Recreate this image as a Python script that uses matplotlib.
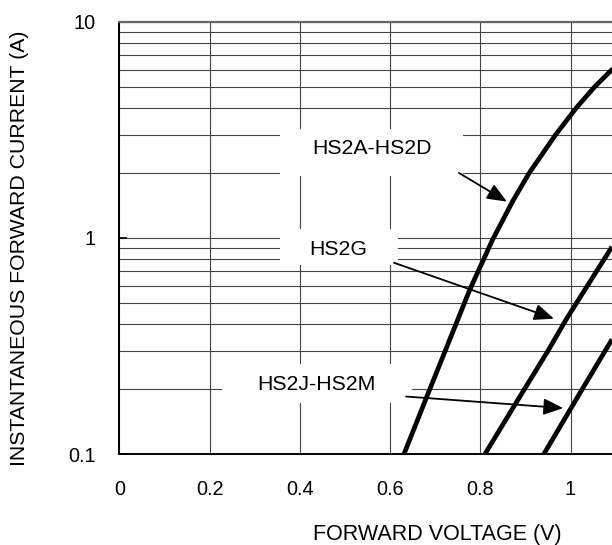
import matplotlib
matplotlib.use("Agg")
import matplotlib.pyplot as plt
from matplotlib.patches import Rectangle
from matplotlib.ticker import FixedLocator, NullFormatter

plt.rcParams['font.family'] = ['Liberation Sans', 'DejaVu Sans']

# ---- data ----
v_a = [0.631, 0.681, 0.777, 0.8275, 0.8717, 0.9084, 0.967, 1.0139, 1.0537, 1.0955]
i_a = [0.1, 0.183, 0.577, 0.982, 1.475, 1.995, 3.0, 4.02, 5.0, 6.11]

v_g = [0.8105, 0.879, 0.950, 0.9915, 1.092]
i_g = [0.1, 0.172, 0.30, 0.423, 0.909]

v_j = [0.941, 1.027, 1.092]
i_j = [0.1, 0.201, 0.339]

series_names = ['HS2A-HS2D', 'HS2G', 'HS2J-HS2M']
label_pos_v = [0.5594, 0.4854, 0.4375]
label_pos_i = [2.584, 0.883, 0.2103]
arrow_start_v = [0.7529, 0.6088, 0.6354]
arrow_start_i = [1.996, 0.767, 0.1845]
arrow_tip_v = [0.859, 0.9634, 0.984]
arrow_tip_i = [1.471, 0.4227, 0.163]

x_ticks = [0, 0.2, 0.4, 0.6, 0.8, 1.0]
x_tick_labels = ['0', '0.2', '0.4', '0.6', '0.8', '1']
y_ticks = [0.1, 1, 10]
y_tick_labels = ['0.1', '1', '10']
y_minor = [0.2, 0.3, 0.4, 0.5, 0.6, 0.7, 0.8, 0.9, 2, 3, 4, 5, 6, 7, 8, 9]

W, H = 612, 545
fig = plt.figure(figsize=(W / 100, H / 100), dpi=100)

ax_left, ax_top, ax_bottom = 119.3, 21.7, 454.0
px_per_v = 451.2
x_max = 1.2
ax = fig.add_axes([ax_left / W, 1 - ax_bottom / H,
                   px_per_v * x_max / W, (ax_bottom - ax_top) / H])

ax.set_yscale('log')
ax.set_xlim(0, x_max)
ax.set_ylim(0.1, 10)

ax.set_xticks(x_ticks)
ax.set_xticklabels(x_tick_labels)
ax.set_yticks(y_ticks)
ax.set_yticklabels(y_tick_labels)
ax.yaxis.set_minor_locator(FixedLocator(y_minor))
ax.yaxis.set_minor_formatter(NullFormatter())

ax.tick_params(axis='x', which='both', length=0, labelsize=14.3, pad=18.5)
ax.tick_params(axis='y', which='major', direction='in', length=5.5, width=1.2,
               labelsize=14.3, pad=17)
ax.tick_params(axis='y', which='minor', length=0)

ax.set_axisbelow(True)
ax.grid(True, which='major', axis='x', color='#444444', lw=0.8)
ax.grid(True, which='both', axis='y', color='#444444', lw=0.8)

for s in ['left', 'bottom']:
    ax.spines[s].set_color('black')
    ax.spines[s].set_linewidth(1.4)
ax.spines['top'].set_color('#666666')
ax.spines['top'].set_linewidth(1.6)
ax.spines['right'].set_visible(False)

# white boxes behind labels (figure pixel coordinates)
def fig_rect(x0, y0, x1, y1):
    return Rectangle((x0 / W, 1 - y1 / H), (x1 - x0) / W, (y1 - y0) / H,
                     transform=fig.transFigure, facecolor='white',
                     edgecolor='none', zorder=1)

for r in [(280, 129, 463, 176), (280, 229, 398, 265), (222, 364, 412, 403)]:
    ax.add_patch(fig_rect(*r))

for v, i in [(v_a, i_a), (v_g, i_g), (v_j, i_j)]:
    ax.plot(v, i, color='black', lw=3.4, solid_joinstyle='round',
            solid_capstyle='butt', zorder=3)

for k, name in enumerate(series_names):
    ax.text(label_pos_v[k], label_pos_i[k], name, fontsize=15.3,
            ha='center', va='center', zorder=4)
    ax.annotate('', xy=(arrow_tip_v[k], arrow_tip_i[k]),
                xytext=(arrow_start_v[k], arrow_start_i[k]),
                arrowprops=dict(arrowstyle='-|>,head_length=1.2,head_width=0.5',
                                mutation_scale=10, color='black', lw=1.3,
                                shrinkA=0, shrinkB=0),
                zorder=4)

fig.text(437 / W, 1 - 540 / H, 'FORWARD VOLTAGE (V)', fontsize=15.5,
         ha='center', va='baseline')
fig.text(20 / W, 1 - 248 / H, 'INSTANTANEOUS FORWARD CURRENT (A)', fontsize=15.3,
         rotation=90, ha='center', va='center')

fig.savefig('out.png', dpi=100)
